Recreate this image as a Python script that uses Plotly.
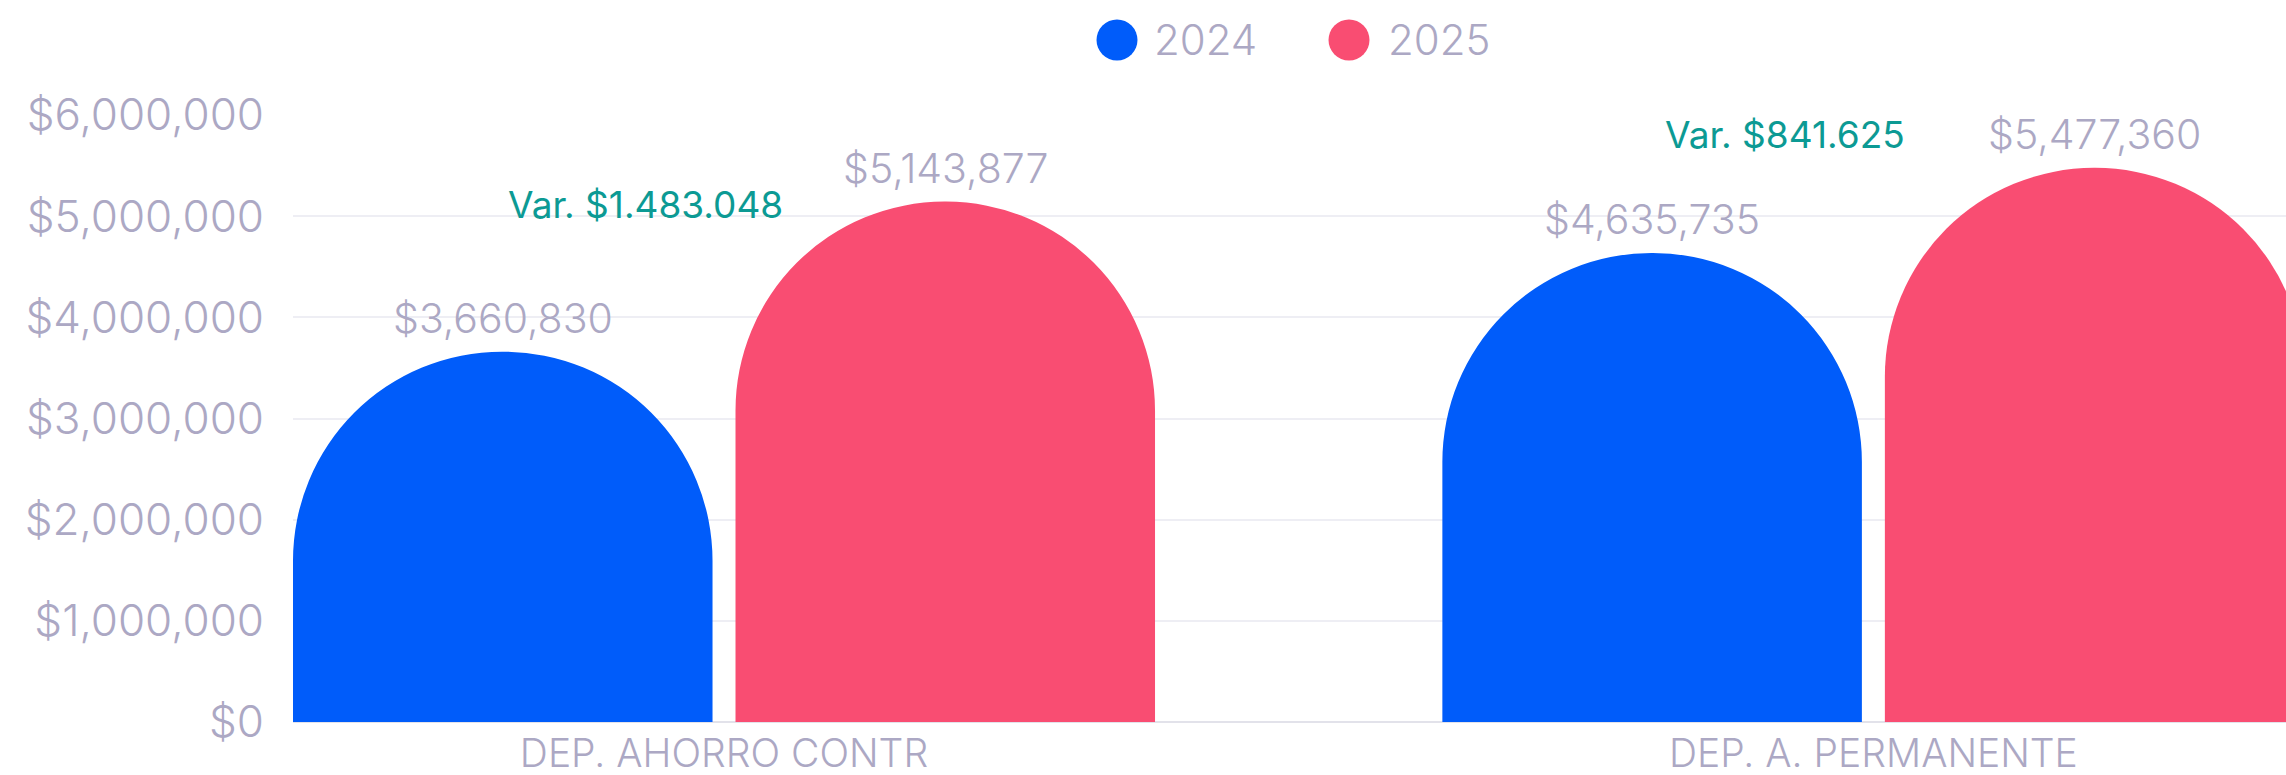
import plotly.graph_objects as go

# Data
categories = ["DEP. AHORRO CONTR", "DEP. A. PERMANENTE"]
series_names = ["2024", "2025"]
values_2024 = [3660830, 4635735]
values_2025 = [5143877, 5477360]
variation_labels = ["Var. $1.483.048", "Var. $841.625"]
y_ticks = [0, 1000000, 2000000, 3000000, 4000000, 5000000, 6000000]

# Styling
W, H = 2286, 775
M_L, M_R, M_T, M_B = 293, 0, 115, 53
BLUE = "#005cfa"
RED = "#f94d72"
TEAL = "#0c9a94"
GREY = "#aca8c4"
GRID = "#eeeef4"
FONT = "Inter"

BAR_W = 0.365
OFFSETS = [-0.375, 0.375 - BAR_W]
colors = [BLUE, RED]

fig = go.Figure()
for name, vals, off, col in zip(series_names, [values_2024, values_2025], OFFSETS, colors):
    fig.add_trace(go.Bar(
        x=categories, y=vals, name=name,
        width=BAR_W, offset=off,
        marker=dict(color=col, line=dict(width=0)),
        showlegend=False, hoverinfo="skip",
    ))

annotations = []
# value labels above each bar
for vals, off in zip([values_2024, values_2025], OFFSETS):
    for i, v in enumerate(vals):
        annotations.append(dict(
            x=i + off + BAR_W / 2, y=v, xref="x", yref="y",
            text=f"${v:,.0f}", showarrow=False,
            yanchor="middle", yshift=34,
            font=dict(family=FONT, size=41, color=GREY, weight=300),
        ))

# variation labels
var_pos = [(-0.068, 5.12e6), (-0.077, 5.81e6)]
for i, (lbl, (dx, yy)) in enumerate(zip(variation_labels, var_pos)):
    annotations.append(dict(
        x=i + dx, y=yy, xref="x", yref="y", text=lbl, showarrow=False,
        yanchor="middle",
        font=dict(family=FONT, size=37, color=TEAL),
    ))

# custom legend with round markers
plot_w = W - M_L - M_R
plot_h = H - M_T - M_B


def px_x(px):
    return (px - M_L) / plot_w


def px_y(py):
    return (H - M_B - py) / plot_h


shapes = []
legend_items = [(1117, 1152, "2024", BLUE), (1349, 1386, "2025", RED)]
for cx, tx, txt, col in legend_items:
    shapes.append(dict(
        type="circle", xref="paper", yref="paper",
        xsizemode="pixel", ysizemode="pixel",
        xanchor=px_x(cx), yanchor=px_y(40),
        x0=-20.5, x1=20.5, y0=-20.5, y1=20.5,
        fillcolor=col, line=dict(width=0),
    ))
    annotations.append(dict(
        x=px_x(tx), y=px_y(40), xref="paper", yref="paper",
        text=txt, showarrow=False, xanchor="left", yanchor="middle",
        font=dict(family=FONT, size=42, color=GREY, weight=300),
    ))

fig.update_layout(
    width=W, height=H,
    margin=dict(l=M_L, r=M_R, t=M_T, b=M_B, pad=0, autoexpand=False),
    paper_bgcolor="white", plot_bgcolor="white",
    barmode="overlay",
    barcornerradius="50%",
    showlegend=False,
    annotations=annotations,
    shapes=shapes,
    xaxis=dict(
        type="category", range=[-0.375, 1.359], automargin=False,
        showgrid=False, showline=False, zeroline=False,
        ticks="", ticklabelstandoff=5,
        tickfont=dict(family=FONT, size=39, color=GREY, weight=300),
    ),
    yaxis=dict(
        range=[0, 6000000], tickvals=y_ticks, tickformat="$,.0f",
        automargin=False,
        showgrid=True, gridcolor=GRID, gridwidth=2,
        zeroline=True, zerolinecolor="#e2e2ea", zerolinewidth=2,
        showline=False, ticks="", ticklabelstandoff=28,
        tickfont=dict(family=FONT, size=44, color=GREY, weight=300),
    ),
)

fig.write_html("out.html")
